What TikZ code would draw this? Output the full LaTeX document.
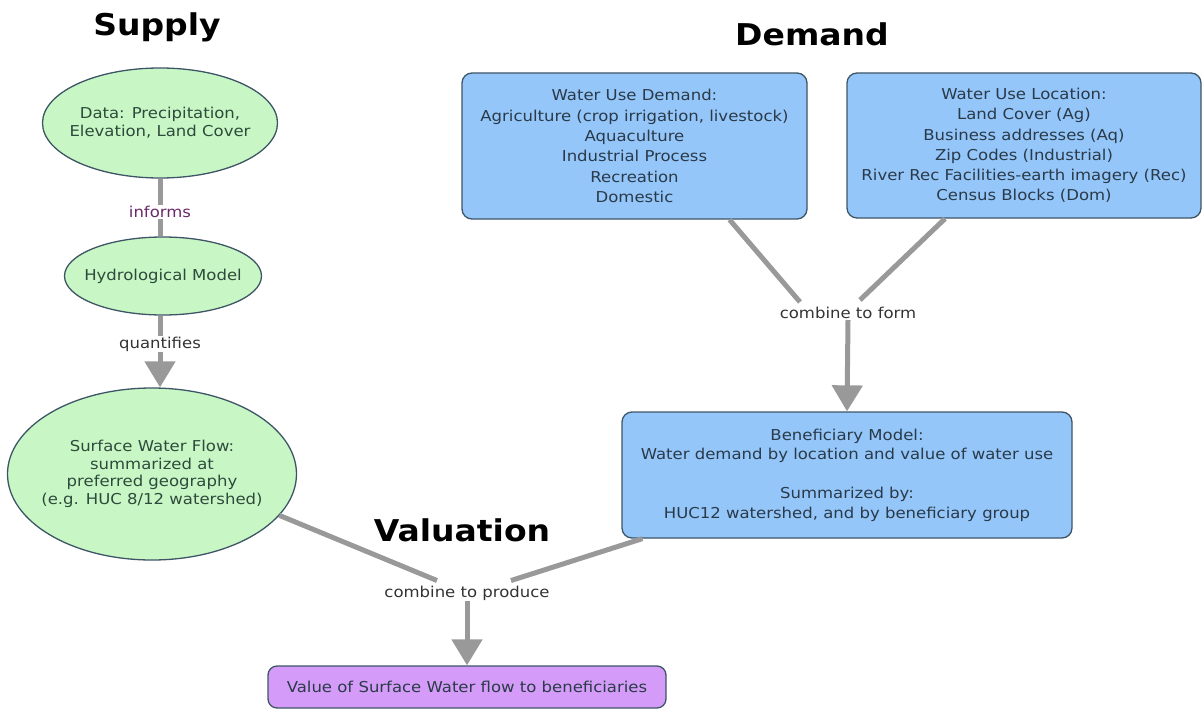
\documentclass[tikz,border=0pt]{standalone}
\usepackage{fontspec}
\setmainfont{DejaVu Sans}[FakeStretch=1.1]
\usetikzlibrary{arrows.meta,calc,shapes.geometric}
\definecolor{gfill}{HTML}{C8F7C5}
\definecolor{bfill}{HTML}{94C6FA}
\definecolor{pfill}{HTML}{D49CF8}
\definecolor{bord}{HTML}{3E5566}
\definecolor{conn}{HTML}{999999}
\definecolor{txt}{HTML}{2A3A48}
\definecolor{gtxt}{HTML}{2E4A3C}
\definecolor{lbl}{HTML}{333333}
\definecolor{lblp}{HTML}{6A2A6A}
\tikzset{
  x=1pt,y=-1pt,
  ell/.style={ellipse,draw=bord,line width=1.3pt,fill=gfill,inner ysep=0pt,inner xsep=-22pt,text=gtxt,align=center,font=\fontsize{15}{18}\selectfont},
  rbox/.style={rectangle,rounded corners=10pt,draw=bord,line width=1.3pt,fill=bfill,inner sep=0pt,text=txt,align=center,font=\fontsize{15}{20.3}\selectfont},
  title/.style={font=\fontsize{30}{34}\selectfont\bfseries,text=black},
  linklbl/.style={font=\fontsize{15}{18}\selectfont,text=lbl,inner sep=1pt},
  conline/.style={draw=conn,line width=5pt},
  conarrow/.style={draw=conn,line width=5pt,-{Triangle[length=26pt,width=30pt]}},
}
\begin{document}
\begin{tikzpicture}
\useasboundingbox (0,0) rectangle (1202,709);
% titles
\node[title] (tsup) at (157,27) {Supply};
\node[title] (tdem) at (812,34) {Demand};
\node[title] (tval) at (462,530) {Valuation};
% supply ellipses
\node[ell,minimum width=235pt,minimum height=110pt] (data) at (160,123) {Data: Precipitation,\\Elevation, Land Cover};
\node[ell,minimum width=197pt,minimum height=78pt] (hydro) at (163,276) {Hydrological Model};
\node[ell,minimum width=289pt,minimum height=172pt,font=\fontsize{15}{17.5}\selectfont] (flow) at (152,474) {Surface Water Flow:\\summarized at\\preferred geography\\(e.g. HUC 8/12 watershed)};
% demand boxes
\node[rbox,minimum width=345pt,minimum height=146pt] (wud) at (634.5,146) {Water Use Demand:\\Agriculture (crop irrigation, livestock)\\Aquaculture\\Industrial Process\\Recreation\\Domestic};
\node[rbox,minimum width=354pt,minimum height=145pt] (wul) at (1024,145.5) {Water Use Location:\\Land Cover (Ag)\\Business addresses (Aq)\\Zip Codes (Industrial)\\River Rec Facilities-earth imagery (Rec)\\Census Blocks (Dom)};
\node[rbox,minimum width=450pt,minimum height=126pt,font=\fontsize{15}{19.5}\selectfont] (ben) at (847,475) {Beneficiary Model:\\Water demand by location and value of water use\\[19.5pt]Summarized by:\\HUC12 watershed, and by beneficiary group};
\node[rectangle,rounded corners=9pt,draw=bord,line width=1.3pt,fill=pfill,minimum width=398pt,minimum height=42pt,inner sep=0pt,text=txt,font=\fontsize{15}{18}\selectfont] (val) at (467,687) {Value of Surface Water flow to beneficiaries};
% link labels
\node[linklbl,text=lblp] (inf) at (160,212) {informs};
\node[linklbl] (qua) at (160,344) {quantifies};
\node[linklbl] (cf) at (848,313) {combine to form};
\node[linklbl] (cp) at (467,593) {combine to produce};
% connectors
\draw[conline] (inf.north |- data.south) -- (inf.north);
\draw[conline] (inf.south) -- (inf.south |- hydro.north);
\draw[conline] (qua.north |- hydro.south) -- (qua.north);
\draw[conarrow] (qua.south) -- (qua.south |- flow.north);
\draw[conline] ($(wud.south)+(95,0)$) -- ($(cf.north)+(-48,-4)$);
\draw[conline] ($(wul.south)+(-79,0)$) -- ($(cf.north)+(12,-6)$);
\draw[conarrow] (cf.south) -- (ben.north);
\draw[conline] (flow.-18) -- ($(cp.north)+(-30,-4)$);
\draw[conline] ($(ben.south west)+(21,0)$) -- ($(cp.north)+(44,-4)$);
\draw[conarrow] (cp.south) -- (val.north);
\end{tikzpicture}
\end{document}
